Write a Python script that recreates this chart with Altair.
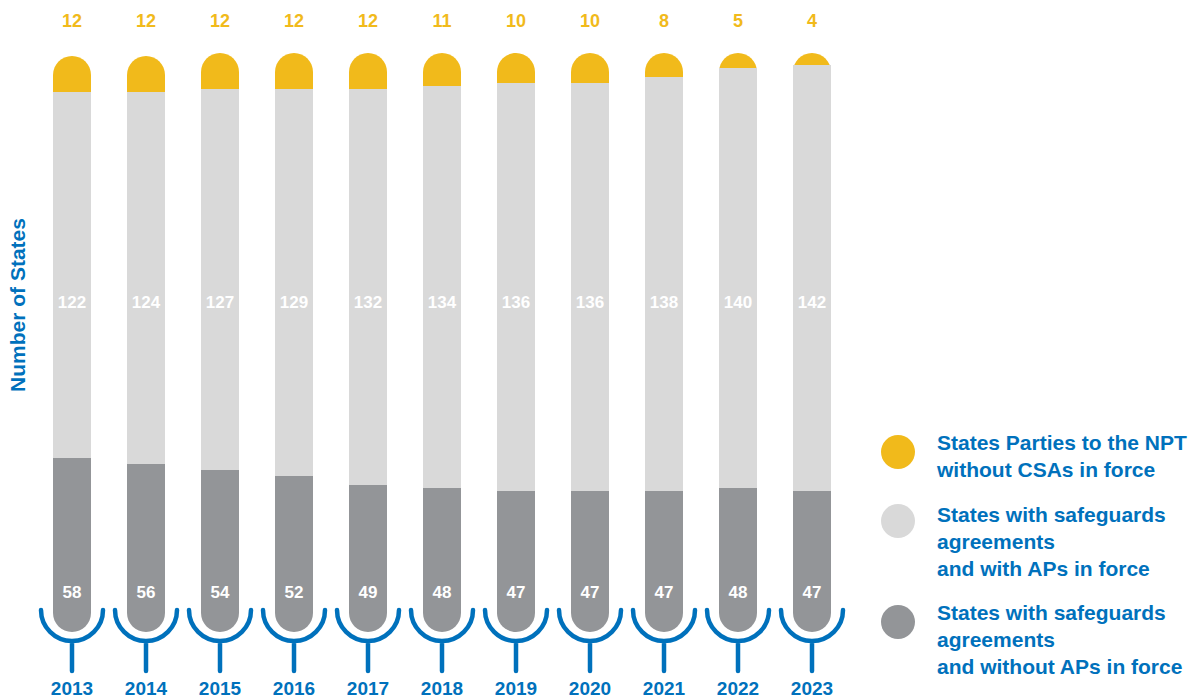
import altair as alt
import pandas as pd

years = [2013, 2014, 2015, 2016, 2017, 2018, 2019, 2020, 2021, 2022, 2023]
no_csa = [12, 12, 12, 12, 12, 11, 10, 10, 8, 5, 4]
with_ap = [122, 124, 127, 129, 132, 134, 136, 136, 138, 140, 142]
without_ap = [58, 56, 54, 52, 49, 48, 47, 47, 47, 48, 47]

legend_labels = [
    ["States Parties to the NPT", "without CSAs in force"],
    ["States with safeguards", "agreements", "and with APs in force"],
    ["States with safeguards", "agreements", "and without APs in force"],
]
y_title = "Number of States"

YELLOW = "#F1BA1B"
LIGHT = "#D9D9D9"
DARK = "#939598"
BLUE = "#0071BC"
FONT = "Liberation Sans"

df = pd.DataFrame({"year": years, "no_csa": no_csa, "with_ap": with_ap, "without_ap": without_ap})

H = 692
xs = alt.Scale(domain=[2012.1351, 2028.1486], zero=False, nice=False, padding=0)
ys = alt.Scale(domain=[-68 / 3, -68 / 3 + H / 3], zero=False, nice=False, padding=0)
X = alt.X("year:Q", scale=xs, axis=None)

base = alt.Chart(df).transform_calculate(
    mid="datum.without_ap + datum.with_ap",
    total="datum.without_ap + datum.with_ap + datum.no_csa",
    ybase="datum.without_ap + datum.with_ap - 9",
    lbase="datum.without_ap - 7",
)

yellow = base.mark_bar(color=YELLOW, size=38, cornerRadiusTopLeft=19, cornerRadiusTopRight=19).encode(
    x=X, y=alt.Y("total:Q", scale=ys, axis=None), y2="ybase:Q")
light = base.mark_bar(color=LIGHT, size=38).encode(
    x=X, y=alt.Y("mid:Q", scale=ys, axis=None), y2="lbase:Q")
dark = base.mark_bar(color=DARK, size=38, cornerRadiusBottomLeft=19, cornerRadiusBottomRight=19).encode(
    x=X, y=alt.Y("without_ap:Q", scale=ys, axis=None), y2=alt.datum(0))

cup_path = "M -1 0 A 1 1 0 0 0 1 0 M 0 1 L 0 1.97"
cups = base.mark_point(shape=cup_path, size=3844, filled=False, stroke=BLUE, strokeWidth=4.5,
                       opacity=1, strokeCap="round").encode(x=X, y=alt.value(602))

top_txt = base.mark_text(font=FONT, fontWeight="bold", fontSize=18, color=YELLOW, baseline="alphabetic").encode(
    x=X, y=alt.value(19), text="no_csa:Q")
mid_txt = base.mark_text(font=FONT, fontWeight="bold", fontSize=17, color="white", baseline="alphabetic").encode(
    x=X, y=alt.value(300), text="with_ap:Q")
low_txt = base.mark_text(font=FONT, fontWeight="bold", fontSize=17, color="white", baseline="alphabetic").encode(
    x=X, y=alt.value(590), text="without_ap:Q")
yr_txt = base.mark_text(font=FONT, fontWeight="bold", fontSize=19, color=BLUE, baseline="alphabetic").encode(
    x=X, y=alt.value(687), text=alt.Text("year:Q", format="d"))

title = alt.Chart(pd.DataFrame({"t": [y_title]})).mark_text(
    font=FONT, fontWeight="bold", fontSize=21, color=BLUE, angle=270, align="center", baseline="alphabetic"
).encode(x=alt.value(17), y=alt.value(297), text="t:N")

layers = [yellow, light, dark, cups, top_txt, mid_txt, low_txt, yr_txt, title]

circle_y = [444, 513, 614]
line_baselines = [[442, 469], [514, 541, 568], [612, 639, 666]]
for color, cy, labels, bls in zip([YELLOW, LIGHT, DARK], circle_y, legend_labels, line_baselines):
    layers.append(alt.Chart(pd.DataFrame({"c": [color]})).mark_point(
        shape="circle", filled=True, size=1156, color=color, opacity=1).encode(
        x=alt.value(890), y=alt.value(cy)))
    for lab, bl in zip(labels, bls):
        layers.append(alt.Chart(pd.DataFrame({"t": [lab]})).mark_text(
            font=FONT, fontWeight="bold", fontSize=21, color=BLUE, align="left", baseline="alphabetic"
        ).encode(x=alt.value(929), y=alt.value(bl), text="t:N"))

chart = alt.layer(*layers).properties(
    width=1185, height=H, padding=0,
    autosize=alt.AutoSizeParams(type="none"),
).configure_view(stroke=None)

chart.save("out.html", embed_options={"renderer": "svg", "actions": False})
